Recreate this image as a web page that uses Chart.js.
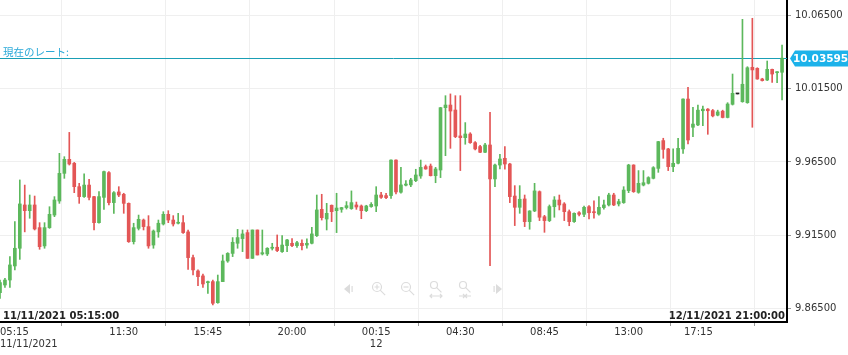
<!DOCTYPE html>
<html><head><meta charset="utf-8">
<script src="https://cdn.jsdelivr.net/npm/chart.js@4.4.0/dist/chart.umd.min.js"></script>
<style>html,body{margin:0;padding:0;background:#fff;}canvas{display:block;}</style>
</head><body>
<canvas id="c" width="848" height="355"></canvas>
<script>
// ---- categories (15-minute candles, 11/11/2021 05:15 -> 12/11/2021 21:00) ----
const labels = [
"05:15","05:30","05:45",
"06:00","06:15","06:30","06:45","07:00","07:15","07:30","07:45",
"08:00","08:15","08:30","08:45","09:00","09:15","09:30","09:45",
"10:00","10:15","10:30","10:45","11:00","11:15","11:30","11:45",
"12:00","12:15","12:30","12:45","13:00","13:15","13:30","13:45",
"14:00","14:15","14:30","14:45","15:00","15:15","15:30","15:45",
"16:00","16:15","16:30","16:45","17:00","17:15","17:30","17:45",
"18:00","18:15","18:30","18:45","19:00","19:15","19:30","19:45",
"20:00","20:15","20:30","20:45","21:00","21:15","21:30","21:45",
"22:00","22:15","22:30","22:45","23:00","23:15","23:30","23:45",
"00:00","00:15","00:30","00:45","01:00","01:15","01:30","01:45",
"02:00","02:15","02:30","02:45","03:00","03:15","03:30","03:45",
"04:00","04:15","04:30","04:45","05:00","05:15","05:30","05:45",
"06:00","06:15","06:30","06:45","07:00","07:15","07:30","07:45",
"08:00","08:15","08:30","08:45","09:00","09:15","09:30","09:45",
"10:00","10:15","10:30","10:45","11:00","11:15","11:30","11:45",
"12:00","12:15","12:30","12:45","13:00","13:15","13:30","13:45",
"14:00","14:15","14:30","14:45","15:00","15:15","15:30","15:45",
"16:00","16:15","16:30","16:45","17:00","17:15","17:30","17:45",
"18:00","18:15","18:30","18:45","19:00","19:15","19:30","19:45",
"20:00","20:15","20:30","20:45","21:00"
];

// ---- series values (OHLC) ----
const opens = [
9.8757,9.8809,9.8843,9.8939,9.9060,9.9356,9.9317,9.9356,9.9201,9.9076,
9.9201,9.9287,9.9383,9.9572,9.9668,9.9641,9.9481,9.9413,9.9492,9.9413,
9.9235,9.9408,9.9577,9.9372,9.9445,9.9429,9.9367,9.9105,9.9196,9.9253,
9.9208,9.9082,9.9172,9.9226,9.9292,9.9253,9.9231,9.9235,9.9172,9.8996,
9.8905,9.8871,9.8825,9.8832,9.8688,9.8832,9.8973,9.9025,9.9094,9.9126,
9.9167,9.8991,9.9185,9.9021,9.9021,9.9060,9.9067,9.9037,9.9078,9.9094,
9.9078,9.9094,9.9082,9.9094,9.9146,9.9326,9.9260,9.9354,9.9317,9.9326,
9.9338,9.9331,9.9356,9.9349,9.9317,9.9345,9.9349,9.9424,9.9420,9.9420,
9.9663,9.9443,9.9491,9.9493,9.9522,9.9554,9.9618,9.9622,9.9556,9.9595,
10.0021,10.0039,10.0005,9.9828,9.9816,9.9841,9.9782,9.9755,9.9716,9.9766,
9.9534,9.9629,9.9675,9.9636,9.9417,9.9340,9.9397,9.9242,9.9315,9.9447,
9.9276,9.9249,9.9344,9.9390,9.9363,9.9310,9.9242,9.9303,9.9292,9.9344,
9.9310,9.9294,9.9338,9.9356,9.9424,9.9363,9.9372,9.9454,9.9629,9.9442,
9.9492,9.9504,9.9538,9.9606,9.9796,9.9739,9.9618,9.9641,9.9739,10.0080,
9.9887,9.9903,10.0000,10.0011,10.0001,9.9970,9.9997,9.9954,10.0044,10.0115,
10.0062,10.0055,10.0297,10.0290,10.0217,10.0210,10.0283,10.0260,10.0263,null
];
const highs = [
9.8843,9.8855,9.9003,9.9242,9.9527,9.9492,9.9424,9.9417,9.9235,9.9235,
9.9344,9.9413,9.9709,9.9686,9.9852,9.9647,9.9504,9.9568,9.9531,9.9415,
9.9447,9.9588,9.9584,9.9447,9.9481,9.9436,9.9370,9.9231,9.9287,9.9260,
9.9283,9.9185,9.9253,9.9310,9.9317,9.9283,9.9299,9.9283,9.9185,9.9014,
9.8912,9.8884,9.8836,9.8843,9.8877,9.9014,9.9030,9.9133,9.9189,9.9185,
9.9185,9.9185,9.9185,9.9185,9.9064,9.9094,9.9151,9.9146,9.9121,9.9126,
9.9107,9.9117,9.9124,9.9203,9.9424,9.9429,9.9367,9.9356,9.9436,9.9340,
9.9379,9.9452,9.9376,9.9356,9.9354,9.9372,9.9481,9.9442,9.9436,9.9665,
9.9665,9.9613,9.9522,9.9538,9.9600,9.9663,9.9629,9.9636,9.9613,10.0023,
10.0103,10.0115,10.0103,10.0103,9.9919,9.9850,9.9789,9.9764,9.9777,9.9989,
9.9636,9.9702,9.9755,9.9641,9.9488,9.9488,9.9424,9.9317,9.9504,9.9452,
9.9285,9.9356,9.9413,9.9424,9.9372,9.9322,9.9303,9.9310,9.9349,9.9351,
9.9385,9.9413,9.9390,9.9436,9.9436,9.9395,9.9481,9.9634,9.9631,9.9591,
9.9591,9.9549,9.9618,9.9791,9.9812,9.9743,9.9739,9.9812,10.0082,10.0160,
10.0023,10.0039,10.0032,10.0015,10.0009,10.0004,10.0004,10.0055,10.0251,10.0115,
10.0625,10.0301,10.0632,10.0294,10.0222,10.0340,10.0285,10.0267,10.0449,null
];
const lows = [
9.8718,9.8793,9.8793,9.8912,9.8984,9.9172,9.9265,9.9185,9.9053,9.9060,
9.9196,9.9276,9.9367,9.9538,9.9629,9.9440,9.9367,9.9408,9.9390,9.9185,
9.9231,9.9326,9.9356,9.9299,9.9413,9.9299,9.9100,9.9089,9.9185,9.9185,
9.9060,9.9060,9.9135,9.9219,9.9235,9.9212,9.9226,9.9162,9.8916,9.8877,
9.8804,9.8793,9.8752,9.8672,9.8684,9.8832,9.8964,9.9003,9.9060,9.9037,
9.8991,9.8991,9.9014,9.9014,9.9010,9.9048,9.9037,9.9032,9.9037,9.9071,
9.9066,9.9048,9.9060,9.9089,9.9140,9.9253,9.9185,9.9242,9.9167,9.9306,
9.9328,9.9326,9.9326,9.9262,9.9310,9.9340,9.9310,9.9401,9.9399,9.9401,
9.9431,9.9436,9.9486,9.9481,9.9515,9.9538,9.9600,9.9554,9.9508,9.9543,
9.9693,9.9743,9.9816,9.9591,9.9771,9.9777,9.9732,9.9714,9.9714,9.8941,
9.9481,9.9602,9.9600,9.9372,9.9215,9.9299,9.9208,9.9190,9.9310,9.9249,
9.9169,9.9242,9.9272,9.9322,9.9249,9.9214,9.9237,9.9281,9.9276,9.9260,
9.9265,9.9287,9.9328,9.9349,9.9351,9.9349,9.9367,9.9440,9.9442,9.9436,
9.9486,9.9499,9.9534,9.9579,9.9675,9.9591,9.9584,9.9636,9.9709,9.9773,
9.9823,9.9898,9.9898,9.9839,9.9958,9.9965,9.9951,9.9951,10.0039,10.0115,
10.0058,10.0051,9.9887,10.0215,10.0203,10.0206,10.0194,10.0192,10.0074,null
];
const closes = [
9.8825,9.8843,9.8946,9.9060,9.9363,9.9317,9.9356,9.9192,9.9071,9.9201,
9.9292,9.9390,9.9572,9.9668,9.9636,9.9481,9.9413,9.9492,9.9408,9.9235,
9.9413,9.9584,9.9372,9.9440,9.9424,9.9367,9.9105,9.9201,9.9258,9.9208,
9.9076,9.9178,9.9231,9.9292,9.9253,9.9226,9.9237,9.9167,9.8996,9.8912,
9.8866,9.8816,9.8832,9.8684,9.8832,9.8973,9.9025,9.9101,9.9133,9.9158,
9.8991,9.9185,9.9014,9.9030,9.9060,9.9067,9.9044,9.9082,9.9117,9.9078,
9.9098,9.9078,9.9094,9.9158,9.9322,9.9269,9.9299,9.9310,9.9335,9.9338,
9.9351,9.9372,9.9342,9.9317,9.9349,9.9360,9.9424,9.9408,9.9406,9.9663,
9.9445,9.9493,9.9499,9.9527,9.9561,9.9613,9.9602,9.9556,9.9602,10.0021,
10.0039,9.9998,9.9823,9.9816,9.9841,9.9782,9.9739,9.9716,9.9766,9.9534,
9.9629,9.9670,9.9636,9.9413,9.9340,9.9395,9.9242,9.9315,9.9452,9.9272,
9.9249,9.9345,9.9390,9.9356,9.9310,9.9242,9.9299,9.9292,9.9340,9.9303,
9.9303,9.9340,9.9356,9.9424,9.9356,9.9379,9.9458,9.9629,9.9447,9.9504,
9.9508,9.9543,9.9611,9.9789,9.9736,9.9618,9.9641,9.9743,10.0080,9.9800,
9.9909,10.0004,10.0011,10.0000,9.9965,9.9992,9.9954,10.0046,10.0119,10.0115,
10.0181,10.0294,10.0279,10.0217,10.0206,10.0283,10.0251,10.0267,10.03595,null
];

// ---- tick labels ----
const xTickIdx  = [0, 25, 42, 59, 76, 93, 110, 127, 144];
const xTickText = [["05:15","11/11/2021"],"11:30","15:45","20:00",["00:15","12"],"04:30","08:45","13:00","17:15"];
const yTicks = [9.865, 9.915, 9.965, 10.015, 10.065];
const yMin = 9.8556, yMax = 10.0757;
const currentRate = 10.03595;
const rateLabel = "現在のレート:";
const startLabel = "11/11/2021 05:15:00";
const endLabel = "12/11/2021 21:00:00";

// ---- styles ----
const GREEN = '#5cb85c', RED = '#e35656', DOJI = '#222';
const LINE_COLOR = '#1a9fb5', LABEL_COLOR = '#2aa9d8', BOX_COLOR = '#1cb2ea', ICON = '#dcdcdc';
const GRID = '#efefef', TEXT = '#333';

const colors = opens.map((o, i) => o == null ? 'rgba(0,0,0,0)' : (closes[i] > o ? GREEN : (closes[i] < o ? RED : DOJI)));
const wickData = highs.map((h, i) => h == null ? null : [lows[i], h]);
const bodyData = opens.map((o, i) => o == null ? null : [o, closes[i]]);

function mag(ctx, cx, cy, r, sign) {
  ctx.beginPath(); ctx.arc(cx, cy, r, 0, Math.PI * 2); ctx.stroke();
  ctx.beginPath(); ctx.moveTo(cx + r * 0.7, cy + r * 0.7); ctx.lineTo(cx + r * 0.7 + 5, cy + r * 0.7 + 5); ctx.stroke();
  if (sign) {
    ctx.beginPath(); ctx.moveTo(cx - r * 0.55, cy); ctx.lineTo(cx + r * 0.55, cy);
    if (sign === '+') { ctx.moveTo(cx, cy - r * 0.55); ctx.lineTo(cx, cy + r * 0.55); }
    ctx.stroke();
  }
}

const overlay = {
  id: 'overlay',
  beforeDatasetsDraw(chart) {
    const { ctx, chartArea: a, scales: { y } } = chart;
    ctx.save();
    // toolbar icons
    ctx.strokeStyle = ICON; ctx.fillStyle = ICON; ctx.lineWidth = 1.2;
    const iy = a.bottom - 33;
    ctx.beginPath(); ctx.moveTo(a.left + 344, iy); ctx.lineTo(a.left + 350, iy - 5); ctx.lineTo(a.left + 350, iy + 5); ctx.closePath(); ctx.fill();
    ctx.fillRect(a.left + 351.5, iy - 3, 1.2, 6);
    mag(ctx, a.left + 377, iy - 2, 4.5, '+');
    mag(ctx, a.left + 406, iy - 2, 4.5, '-');
    mag(ctx, a.left + 434, iy - 4, 3.5, null);
    mag(ctx, a.left + 463, iy - 4, 3.5, null);
    ctx.beginPath();
    ctx.moveTo(a.left + 430, iy + 7); ctx.lineTo(a.left + 442, iy + 7);
    ctx.moveTo(a.left + 432, iy + 5); ctx.lineTo(a.left + 430, iy + 7); ctx.lineTo(a.left + 432, iy + 9);
    ctx.moveTo(a.left + 440, iy + 5); ctx.lineTo(a.left + 442, iy + 7); ctx.lineTo(a.left + 440, iy + 9);
    ctx.moveTo(a.left + 459, iy + 7); ctx.lineTo(a.left + 471, iy + 7);
    ctx.moveTo(a.left + 463, iy + 5); ctx.lineTo(a.left + 465, iy + 7); ctx.lineTo(a.left + 463, iy + 9);
    ctx.moveTo(a.left + 467, iy + 5); ctx.lineTo(a.left + 465, iy + 7); ctx.lineTo(a.left + 467, iy + 9);
    ctx.stroke();
    ctx.beginPath(); ctx.moveTo(a.left + 502, iy); ctx.lineTo(a.left + 496, iy - 5); ctx.lineTo(a.left + 496, iy + 5); ctx.closePath(); ctx.fill();
    ctx.fillRect(a.left + 493.5, iy - 3, 1.2, 6);
    // current rate line
    const py = Math.round(y.getPixelForValue(currentRate)) + 0.5;
    ctx.strokeStyle = LINE_COLOR; ctx.lineWidth = 1;
    ctx.beginPath(); ctx.moveTo(a.left, py); ctx.lineTo(a.right, py); ctx.stroke();
    ctx.fillStyle = LABEL_COLOR; ctx.font = '10.5px "Noto Sans CJK JP"';
    ctx.textBaseline = 'alphabetic'; ctx.textAlign = 'left';
    ctx.fillText(rateLabel, a.left + 3, py - 3);
    ctx.restore();
  },
  afterDraw(chart) {
    const { ctx, chartArea: a, scales: { y } } = chart;
    ctx.save();
    // bottom start / end labels
    ctx.fillStyle = '#222'; ctx.font = 'bold 10px "DejaVu Sans"';
    ctx.textBaseline = 'alphabetic';
    ctx.textAlign = 'left'; ctx.fillText(startLabel, a.left + 3, a.bottom - 3);
    ctx.textAlign = 'right'; ctx.fillText(endLabel, a.right - 2, a.bottom - 3);
    // current rate box on axis
    const py = Math.round(y.getPixelForValue(currentRate)) + 0.5;
    const x0 = a.right + 3, x1 = a.right + 8, h = 8;
    ctx.fillStyle = BOX_COLOR;
    ctx.beginPath();
    ctx.moveTo(x0, py); ctx.lineTo(x1, py - h); ctx.lineTo(848, py - h); ctx.lineTo(848, py + h); ctx.lineTo(x1, py + h); ctx.closePath();
    ctx.fill();
    ctx.fillStyle = '#fff'; ctx.font = 'bold 10.5px "DejaVu Sans"';
    ctx.textAlign = 'left'; ctx.textBaseline = 'middle';
    ctx.fillText(currentRate.toFixed(5), a.right + 6, py + 0.5);
    ctx.restore();
  }
};

new Chart(document.getElementById('c'), {
  type: 'bar',
  data: {
    labels: labels,
    datasets: [
      { label: 'wick', data: wickData, backgroundColor: colors, barThickness: 1, grouped: false, order: 2 },
      { label: 'body', data: bodyData, backgroundColor: colors, barThickness: 3, minBarLength: 1, grouped: false, order: 1 }
    ]
  },
  options: {
    responsive: false,
    animation: false,
    devicePixelRatio: 1,
    layout: { padding: 0 },
    plugins: { legend: { display: false }, tooltip: { enabled: false } },
    scales: {
      x: {
        type: 'category',
        offset: false,
        grid: { color: GRID, tickLength: 4, tickColor: '#999', drawTicks: true },
        border: { color: '#000', width: 2 },
        ticks: {
          autoSkip: false, maxRotation: 0, minRotation: 0, align: 'inner', padding: 1,
          color: TEXT, font: { family: 'DejaVu Sans', size: 10, lineHeight: 1.15 },
          callback: (v, i) => { const k = xTickIdx.indexOf(i); return k >= 0 ? xTickText[k] : null; }
        },
        afterFit: s => { s.height = 33; s.paddingLeft = 0; s.paddingRight = 0; }
      },
      y: {
        type: 'linear',
        position: 'right',
        min: yMin, max: yMax,
        grid: { color: GRID, tickLength: 4, tickColor: '#999' },
        border: { color: '#000', width: 2 },
        ticks: {
          color: TEXT, padding: 4, font: { family: 'DejaVu Sans', size: 10 },
          callback: v => Number(v).toFixed(5)
        },
        afterBuildTicks: s => { s.ticks = yTicks.map(v => ({ value: v })); },
        afterFit: s => { s.width = 61; s.paddingTop = 0; s.paddingBottom = 0; }
      }
    }
  },
  plugins: [overlay]
});
</script>
</body></html>
